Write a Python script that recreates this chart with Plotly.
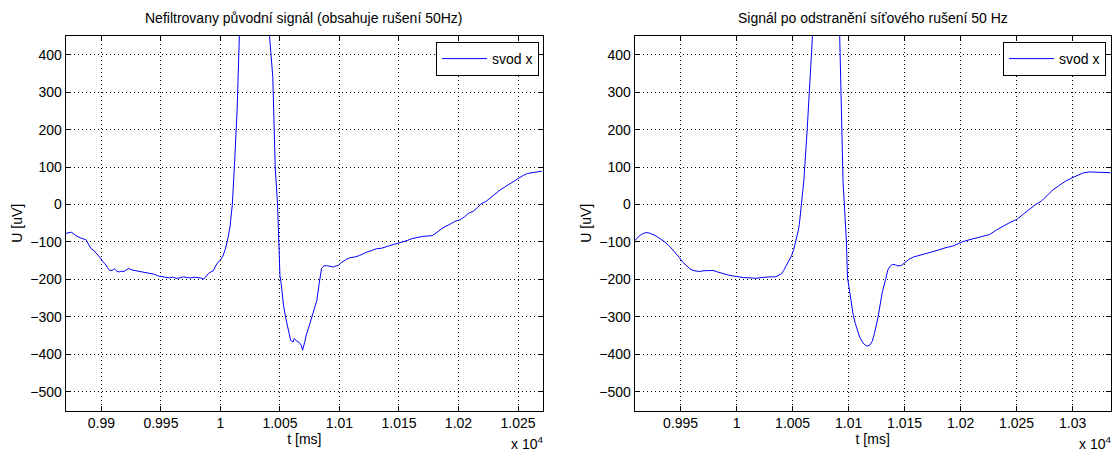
import plotly.graph_objects as go

# ---------------- data ----------------
raw_t = [9870, 9873, 9875, 9878, 9880, 9883, 9885, 9887, 9889, 9891, 9894, 9896, 9899, 9901,
         9903, 9905, 9907, 9909, 9911, 9913, 9915, 9917, 9919, 9921, 9923, 9926, 9929, 9932,
         9936, 9940, 9944, 9948, 9951, 9954, 9957, 9960, 9963, 9966, 9969, 9972, 9975, 9978,
         9981, 9983, 9986, 9988, 9990, 9992, 9994, 9996, 9998, 10000, 10002, 10004, 10006,
         10008, 10010, 10012, 10014, 10016, 10020, 10028, 10036, 10041, 10044, 10046, 10048,
         10049, 10050, 10051, 10053, 10055, 10057, 10059, 10061, 10062, 10064, 10066, 10068,
         10069, 10071, 10072, 10074, 10076, 10078, 10081, 10083, 10085, 10087, 10089, 10092,
         10095, 10097, 10099, 10101, 10103, 10106, 10109, 10113, 10117, 10120, 10123, 10127,
         10131, 10135, 10139, 10142, 10145, 10149, 10153, 10157, 10161, 10165, 10170, 10174,
         10178, 10182, 10187, 10192, 10197, 10201, 10205, 10209, 10212, 10216, 10219, 10223,
         10226, 10230, 10235, 10239, 10243, 10247, 10250, 10254, 10258, 10262, 10266, 10270]
raw_u = [-77, -75, -74, -82, -86, -90, -92, -94, -105, -117, -124, -131, -142, -152,
         -158, -168, -176, -176, -172, -178, -180, -178, -179, -174, -171, -175, -177, -178,
         -181, -183, -186, -191, -192, -194, -196, -194, -197, -196, -193, -195, -196, -194,
         -194, -196, -199, -190, -184, -180, -177, -164, -154, -148, -138, -120, -95,
         -60, 0, 120, 250, 460, 800, 1100, 800, 460, 340, 100, 0,
         -105, -190, -210, -270, -305, -335, -363, -367, -358, -364, -368, -376,
         -389, -365, -349, -330, -309, -285, -256, -210, -170, -164, -163, -165,
         -167, -164, -163, -156, -151, -146, -142, -140, -136, -131, -127, -123,
         -118, -117, -114, -110, -107, -104, -100, -96, -91, -88, -85, -84,
         -83, -74, -62, -54, -45, -41, -33, -22, -19, -8, 2, 8,
         15, 26, 39, 47, 55, 64, 71, 77, 83, 85, 87, 89]

filt_t = [9909, 9911, 9913, 9916, 9919, 9922, 9925, 9928, 9931, 9935, 9940, 9945, 9949, 9952,
          9955, 9958, 9961, 9964, 9967, 9970, 9973, 9976, 9979, 9983, 9988, 9992, 9997, 10001,
          10006, 10012, 10018, 10022, 10027, 10031, 10035, 10038, 10040, 10042, 10044, 10046,
          10049, 10051, 10053, 10055, 10056, 10058, 10060, 10063, 10067, 10072, 10080, 10087,
          10092, 10095, 10098, 10099, 10101, 10104, 10106, 10108, 10110, 10113, 10115, 10117,
          10119, 10121, 10123, 10126, 10128, 10130, 10133, 10135, 10137, 10139, 10142, 10144,
          10147, 10150, 10154, 10158, 10162, 10166, 10169, 10175, 10181, 10187, 10193, 10198,
          10202, 10208, 10214, 10220, 10226, 10232, 10238, 10244, 10250, 10256, 10261, 10266,
          10272, 10277, 10282, 10288, 10294, 10300, 10306, 10310, 10315, 10320, 10325, 10330, 10334]
filt_u = [-97, -90, -84, -78, -75, -76, -79, -84, -90, -98, -111, -127, -142, -154,
          -164, -171, -176, -178, -179, -177, -176, -176, -176, -180, -185, -188, -191, -193,
          -195, -196, -197, -195, -193, -193, -193, -189, -185, -176, -164, -152,
          -137, -120, -97, -70, -53, 0, 63, 200, 455, 800, 1100, 800,
          455, 63, -97, -195, -240, -293, -318, -337, -355, -370, -376, -378,
          -375, -366, -345, -305, -270, -235, -200, -175, -165, -160, -161, -164,
          -163, -155, -146, -140, -136, -133, -131, -126, -120, -115, -111, -104,
          -99, -94, -90, -86, -80, -68, -57, -48, -40, -26, -13, -2,
          9, 24, 38, 51, 63, 72, 80, 85, 87, 87, 87, 86, 85]

left_tick_vals = [9900, 9950, 10000, 10050, 10100, 10150, 10200, 10250]
left_tick_text = ["0.99", "0.995", "1", "1.005", "1.01", "1.015", "1.02", "1.025"]
right_tick_vals = [9950, 10000, 10050, 10100, 10150, 10200, 10250, 10300]
right_tick_text = ["0.995", "1", "1.005", "1.01", "1.015", "1.02", "1.025", "1.03"]
y_tick_vals = [-500, -400, -300, -200, -100, 0, 100, 200, 300, 400]

left_title = "Nefiltrovany původní signál (obsahuje rušení 50Hz)"
right_title = "Signál po odstranění síťového rušení 50 Hz"
series_name = "svod x"

# ---------------- layout helpers ----------------
W, H = 1117, 454
FONT = "Liberation Sans, Arial, Helvetica, sans-serif"
FS = 14


def px_x(p):
    return p / W


def px_y(p):
    return 1 - p / H


top_px, bot_px = 36, 410.5
L1 = (65.7, 543.0)
L2 = (634.7, 1110.7)

fig = go.Figure()
fig.add_trace(go.Scatter(x=raw_t, y=raw_u, mode="lines", name=series_name,
                         line=dict(color="#0000ff", width=1), xaxis="x", yaxis="y",
                         legend="legend"))
fig.add_trace(go.Scatter(x=filt_t, y=filt_u, mode="lines", name=series_name,
                         line=dict(color="#0000ff", width=1), xaxis="x2", yaxis="y2",
                         legend="legend2"))

axis_common = dict(showline=True, linecolor="black", linewidth=1, mirror="ticks",
                   ticks="inside", ticklen=5, tickcolor="black", tickwidth=1,
                   showgrid=True, gridcolor="black", gridwidth=1, griddash="1px,3px",
                   zeroline=False, tickfont=dict(family=FONT, size=FS, color="black"))

fig.update_layout(
    width=W, height=H, margin=dict(l=0, r=0, t=0, b=0),
    paper_bgcolor="white", plot_bgcolor="white",
    font=dict(family=FONT, size=FS, color="black"),
    xaxis=dict(domain=[px_x(L1[0]), px_x(L1[1])], range=[9870, 10271], anchor="y",
               tickvals=left_tick_vals, ticktext=left_tick_text,
               title=dict(text="t [ms]", standoff=1, font=dict(size=FS)), **axis_common),
    yaxis=dict(domain=[px_y(bot_px), px_y(top_px)], range=[-550, 450], anchor="x",
               tickvals=y_tick_vals,
               title=dict(text="U [uV]", standoff=4, font=dict(size=FS)), **axis_common),
    xaxis2=dict(domain=[px_x(L2[0]), px_x(L2[1])], range=[9909, 10334], anchor="y2",
                tickvals=right_tick_vals, ticktext=right_tick_text,
                title=dict(text="t [ms]", standoff=1, font=dict(size=FS)), **axis_common),
    yaxis2=dict(domain=[px_y(bot_px), px_y(top_px)], range=[-550, 450], anchor="x2",
                tickvals=y_tick_vals,
                title=dict(text="U [uV]", standoff=4, font=dict(size=FS)), **axis_common),
    legend=dict(x=px_x(539), y=px_y(42), xanchor="right", yanchor="top",
                bgcolor="white", bordercolor="black", borderwidth=1,
                font=dict(family=FONT, size=FS), itemwidth=45,
                tracegroupgap=0),
    legend2=dict(x=px_x(1106), y=px_y(42), xanchor="right", yanchor="top",
                 bgcolor="white", bordercolor="black", borderwidth=1,
                 font=dict(family=FONT, size=FS), itemwidth=45,
                 tracegroupgap=0),
    showlegend=True,
)

for txt, cx in ((left_title, (L1[0] + L1[1]) / 2), (right_title, (L2[0] + L2[1]) / 2)):
    fig.add_annotation(text=txt, x=px_x(cx), y=px_y(18), xref="paper", yref="paper",
                       showarrow=False, xanchor="center", yanchor="middle",
                       font=dict(family=FONT, size=FS, color="black"))

for right_edge in (L1[1], L2[1]):
    fig.add_annotation(text="x 10<sup>4</sup>", x=px_x(right_edge + 2), y=px_y(443),
                       xref="paper", yref="paper", showarrow=False,
                       xanchor="right", yanchor="middle",
                       font=dict(family=FONT, size=FS, color="black"))

fig.write_html("out.html")
